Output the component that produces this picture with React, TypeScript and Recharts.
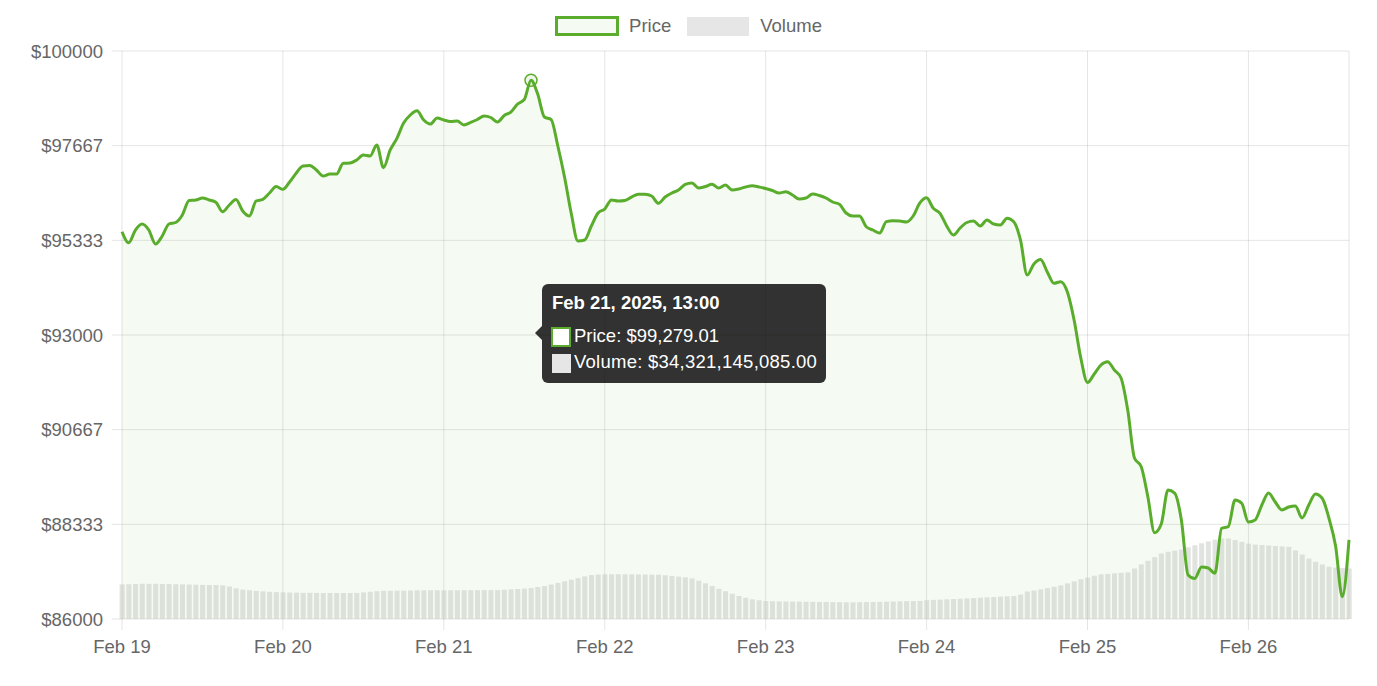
import React from 'react';
import {
  ComposedChart,
  Area,
  Bar,
  Line,
  XAxis,
  YAxis,
  CartesianGrid,
  Tooltip,
  Legend,
} from 'recharts';

const FONT = '"Liberation Sans", Arial, Helvetica, sans-serif';
const GREEN = '#5aad2c';
const FS = 18.5;

// Hourly BTC price, Feb 19 00:00 .. Feb 26 15:00 (2025)
const PRICE_FEB19 = [95546, 95275, 95588, 95736, 95588, 95243, 95440, 95736, 95773, 95958, 96315, 96327, 96377, 96327, 96271, 96039, 96204, 96340, 96056, 95933, 96303, 96345, 96500, 96660];
const PRICE_FEB20 = [96591, 96771, 96993, 97165, 97178, 97067, 96919, 96968, 96968, 97232, 97239, 97313, 97437, 97412, 97683, 97124, 97560, 97848, 98225, 98423, 98529, 98299, 98201, 98349];
const PRICE_FEB21 = [98299, 98262, 98275, 98176, 98238, 98312, 98398, 98361, 98250, 98410, 98496, 98694, 98805, 99279.01, 98940, 98373, 98312, 97658, 96894, 96000, 95317, 95342, 95687, 96007];
const PRICE_FEB22 = [96106, 96327, 96303, 96315, 96401, 96468, 96468, 96426, 96246, 96401, 96500, 96574, 96710, 96746, 96623, 96660, 96714, 96623, 96697, 96574, 96599, 96648, 96680, 96648];
const PRICE_FEB23 = [96611, 96562, 96500, 96532, 96451, 96352, 96377, 96475, 96438, 96377, 96278, 96221, 96007, 95933, 95933, 95669, 95588, 95514, 95793, 95817, 95810, 95785, 95933, 96254];
const PRICE_FEB24 = [96380, 96123, 96000, 95687, 95465, 95637, 95773, 95810, 95687, 95834, 95736, 95711, 95876, 95793, 95342, 94479, 94750, 94861, 94553, 94274, 94314, 94060, 93370, 92433];
const PRICE_FEB25 = [91829, 92039, 92261, 92342, 92137, 91940, 91150, 89970, 89760, 89015, 88127, 88341, 89180, 89105, 88440, 87085, 86998, 87281, 87256, 87127, 88235, 88275, 88933, 88852];
const PRICE_FEB26 = [88391, 88440, 88810, 89105, 88884, 88687, 88761, 88786, 88490, 88810, 89080, 88975, 88490, 87800, 86550, 87950];

// Hourly 24h volume, billions of USD
const VOL_FEB19 = [38.4, 38.6, 38.8, 39, 39, 39, 38.9, 38.8, 38.6, 38.4, 38.2, 38, 37.8, 37.7, 37.6, 37.3, 36, 34, 32.6, 31.9, 31.2, 30.6, 30.1, 29.8];
const VOL_FEB20 = [29.5, 29.3, 29.2, 29, 29, 28.9, 28.8, 28.8, 28.8, 28.8, 28.8, 28.9, 29.5, 30.2, 30.8, 31.2, 31.3, 31.4, 31.5, 31.6, 31.7, 31.8, 31.8, 31.8];
const VOL_FEB21 = [31.8, 31.8, 31.8, 31.9, 31.9, 32, 32, 32, 32, 32.4, 32.8, 33.2, 33.7, 34.321145085, 35.5, 36.5, 38.2, 40, 41.8, 43.5, 45.3, 47.2, 48.8, 49.3];
const VOL_FEB22 = [49.5, 49.6, 49.6, 49.5, 49.5, 49.4, 49.3, 49.2, 49, 48.5, 47.8, 47, 46.3, 45, 42.5, 39.5, 36.5, 33.5, 30.8, 28, 25.5, 23.5, 21.8, 20.8];
const VOL_FEB23 = [19.9, 19.7, 19.5, 19.4, 19.3, 19.2, 19.1, 19, 18.9, 18.8, 18.7, 18.6, 18.5, 18.5, 18.6, 18.7, 18.8, 19, 19.2, 19.4, 19.6, 19.8, 19.9, 20];
const VOL_FEB24 = [20.8, 21.2, 21.5, 21.8, 22.1, 22.4, 22.8, 23.2, 23.6, 24, 24.4, 24.8, 25.1, 25.4, 27, 30.5, 31.5, 32.8, 34.2, 35.7, 37.2, 39.5, 41.7, 44];
const VOL_FEB25 = [45.9, 48, 49.5, 50, 50.6, 51.2, 51.7, 56, 60.5, 64.5, 68.6, 72.7, 74.5, 75.8, 77, 79.5, 81.8, 84, 86, 88, 89.3, 89.3, 87.5, 85.5];
const VOL_FEB26 = [83.5, 82.5, 82, 81.5, 81, 80.5, 80, 76, 71.5, 67, 63.5, 60.5, 58, 57, 56.5, 56];

const DAY_TICKS = [0, 24, 48, 72, 96, 120, 144, 168];
const DAY_LABELS = ['Feb 19', 'Feb 20', 'Feb 21', 'Feb 22', 'Feb 23', 'Feb 24', 'Feb 25', 'Feb 26'];
const PRICE_TICKS = [86000, 88333, 90667, 93000, 95333, 97667, 100000];

const PRICE = [
  ...PRICE_FEB19, ...PRICE_FEB20, ...PRICE_FEB21, ...PRICE_FEB22,
  ...PRICE_FEB23, ...PRICE_FEB24, ...PRICE_FEB25, ...PRICE_FEB26,
];
const VOLUME = [
  ...VOL_FEB19, ...VOL_FEB20, ...VOL_FEB21, ...VOL_FEB22,
  ...VOL_FEB23, ...VOL_FEB24, ...VOL_FEB25, ...VOL_FEB26,
];

const rows = PRICE.map((p, i) => ({ t: i, price: p, volume: VOLUME[i] }));

const fmtMoney = (v: number) =>
  '$' + v.toLocaleString('en-US', { minimumFractionDigits: 2, maximumFractionDigits: 2 });

const fmtLabel = (i: number) => {
  const day = DAY_LABELS[Math.floor(i / 24)];
  const hh = String(i % 24).padStart(2, '0');
  return `${day}, 2025, ${hh}:00`;
};

function LegendContent() {
  const txt: React.CSSProperties = { color: '#666', fontSize: FS, fontFamily: FONT, lineHeight: '20px' };
  return (
    <div style={{ width: '100%', height: 30, display: 'flex', justifyContent: 'center', alignItems: 'center' }}>
      <div style={{ width: 64, height: 20, boxSizing: 'border-box', border: `3px solid ${GREEN}`, background: 'rgba(92,176,48,0.06)' }} />
      <span style={{ ...txt, marginLeft: 10 }}>Price</span>
      <div style={{ width: 62, height: 19, background: '#e6e6e6', marginLeft: 16 }} />
      <span style={{ ...txt, marginLeft: 11 }}>Volume</span>
    </div>
  );
}

function TipContent(props: any) {
  const { payload, label } = props;
  if (!payload || !payload.length) return null;
  const pr = payload.find((p: any) => p.dataKey === 'price');
  const vo = payload.find((p: any) => p.dataKey === 'volume');
  const line: React.CSSProperties = {
    position: 'absolute', left: 32, fontSize: FS, lineHeight: `${FS}px`, whiteSpace: 'nowrap', color: '#fff',
  };
  return (
    <div style={{ position: 'relative', width: 291, height: 99, fontFamily: FONT }}>
      <div style={{
        position: 'absolute', left: 0, top: 42, width: 0, height: 0,
        borderTop: '7px solid transparent', borderBottom: '7px solid transparent',
        borderRight: '7px solid rgba(0,0,0,0.8)',
      }} />
      <div style={{ position: 'absolute', left: 7, top: 0, width: 284, height: 99, background: 'rgba(0,0,0,0.8)', borderRadius: 6 }}>
        <div style={{ ...line, left: 10, top: 10, fontWeight: 'bold' }}>{fmtLabel(Number(label))}</div>
        <div style={{ position: 'absolute', left: 9, top: 43, width: 20, height: 20, boxSizing: 'border-box', background: '#fff', border: `2.5px solid ${GREEN}` }} />
        <div style={{ ...line, top: 43 }}>Price: {pr ? fmtMoney(pr.value) : ''}</div>
        <div style={{ position: 'absolute', left: 10, top: 70, width: 19, height: 19, background: '#e6e6e6' }} />
        <div style={{ ...line, top: 69, letterSpacing: 0.25 }}>Volume: {vo ? fmtMoney(vo.value * 1e9) : ''}</div>
      </div>
    </div>
  );
}

export default function App() {
  const tick = { fill: '#666', fontSize: FS, fontFamily: FONT };
  return (
    <div style={{ width: 1361, height: 670, fontFamily: FONT }}>
      <ComposedChart width={1361} height={670} data={rows} margin={{ top: 13, right: 20, bottom: 19, left: 0 }}>
        <CartesianGrid yAxisId="price" stroke="rgba(0,0,0,0.1)" />
        <XAxis
          dataKey="t"
          type="number"
          domain={[0, 183]}
          ticks={DAY_TICKS}
          interval={0}
          tickFormatter={(v: number) => DAY_LABELS[DAY_TICKS.indexOf(v)]}
          tickSize={11}
          tickMargin={10}
          axisLine={false}
          tickLine={{ stroke: 'rgba(0,0,0,0.1)' }}
          tick={tick}
          height={40}
        />
        <YAxis
          yAxisId="price"
          domain={[86000, 100000]}
          ticks={PRICE_TICKS}
          interval={0}
          tickFormatter={(v: number) => '$' + v}
          tickSize={10}
          tickMargin={9}
          axisLine={false}
          tickLine={{ stroke: 'rgba(0,0,0,0.1)' }}
          tick={tick}
          width={114}
        />
        <YAxis yAxisId="vol" hide domain={[0, 630]} orientation="right" />
        <Legend verticalAlign="top" content={<LegendContent />} wrapperStyle={{ top: 3, left: 0, width: 1361 }} />
        <Tooltip
          active
          defaultIndex={61}
          position={{ x: 527, y: 276 }}
          cursor={false}
          content={<TipContent />}
          isAnimationActive={false}
          wrapperStyle={{ outline: 'none' }}
        />
        <Area
          yAxisId="price"
          type="monotone"
          dataKey="price"
          name="Price"
          stroke="none"
          fill="rgba(92,176,48,0.06)"
          fillOpacity={1}
          dot={false}
          activeDot={false}
          isAnimationActive={false}
        />
        <Bar yAxisId="vol" dataKey="volume" name="Volume" fill="rgba(195,200,192,0.5)" barSize={5} isAnimationActive={false} />
        <Line
          yAxisId="price"
          type="monotone"
          dataKey="price"
          name="Price"
          stroke={GREEN}
          strokeWidth={3}
          dot={false}
          activeDot={{ r: 6, fill: 'rgba(92,176,48,0.1)', stroke: GREEN, strokeWidth: 1.5 }}
          isAnimationActive={false}
        />
      </ComposedChart>
    </div>
  );
}
